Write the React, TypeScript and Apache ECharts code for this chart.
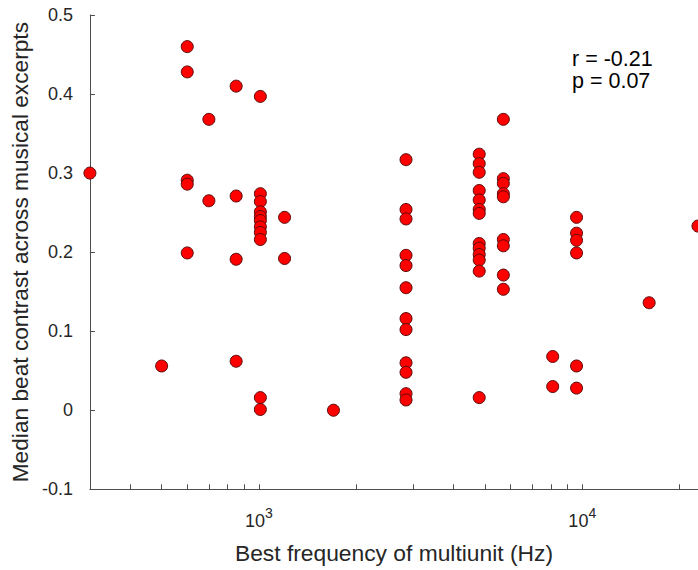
import React, { useEffect, useRef } from "react";
import * as echarts from "echarts";

// Best frequency (Hz) and median beat contrast for each multiunit
const bestFreqHz: number[] = [
  300,
  500,
  600, 600, 600, 600, 600,
  700, 700,
  850, 850, 850, 850,
  1010, 1010, 1010, 1010, 1010, 1010, 1010, 1010, 1010, 1010, 1010,
  1200, 1200,
  1700,
  2850, 2850, 2850, 2850, 2850, 2850, 2850, 2850, 2850, 2850, 2850, 2850,
  4800, 4800, 4800, 4800, 4800, 4800, 4800, 4800, 4800, 4800, 4800, 4800, 4800,
  5700, 5700, 5700, 5700, 5700, 5700, 5700, 5700, 5700,
  8100, 8100,
  9600, 9600, 9600, 9600, 9600, 9600,
  16100,
  22800,
];
const beatContrast: number[] = [
  0.3,
  0.056,
  0.46, 0.428, 0.291, 0.286, 0.199,
  0.368, 0.265,
  0.41, 0.271, 0.191, 0.062,
  0.397, 0.274, 0.264, 0.251, 0.245, 0.24, 0.232, 0.225, 0.216, 0.016, 0.001,
  0.244, 0.192,
  0.0,
  0.317, 0.254, 0.242, 0.196, 0.183, 0.155, 0.116, 0.102, 0.06, 0.048, 0.021, 0.013,
  0.324, 0.312, 0.301, 0.278, 0.266, 0.254, 0.249, 0.211, 0.205, 0.197, 0.19, 0.176, 0.016,
  0.368, 0.293, 0.287, 0.274, 0.27, 0.216, 0.208, 0.171, 0.153,
  0.068, 0.03,
  0.244, 0.224, 0.215, 0.199, 0.056, 0.028,
  0.136,
  0.233,
];

const xMinHz = 300;
const xMaxHz = 22800;
const xMajorTicksHz: number[] = [1000, 10000];
const xTicksHz: number[] = [
  400, 500, 600, 700, 800, 900, 1000,
  2000, 3000, 4000, 5000, 6000, 7000, 8000, 9000, 10000, 20000,
];
const yMin = -0.1;
const yMax = 0.5;
const yStep = 0.1;
const statsLines: string[] = ["r = -0.21", "p = 0.07"];

const FONT = "Liberation Sans, Arial, Helvetica, sans-serif";
const TEXT = "#262626";
const AXIS = "#4d4d4d";

export default function App() {
  const ref = useRef<HTMLDivElement>(null);
  useEffect(() => {
    if (!ref.current) return;
    const chart = echarts.init(ref.current, undefined, { renderer: "svg" });
    const points = bestFreqHz.map((f, i) => [Math.log10(f), beatContrast[i]]);
    chart.setOption({
      animation: false,
      backgroundColor: "#ffffff",
      textStyle: { fontFamily: FONT },
      grid: { left: 89.3, right: -5, top: 15, bottom: 80.7, containLabel: false },
      xAxis: {
        type: "value",
        min: Math.log10(xMinHz),
        max: Math.log10(xMaxHz),
        name: "Best frequency of multiunit (Hz)",
        nameLocation: "middle",
        nameGap: 52,
        nameTextStyle: { fontSize: 22.8, color: TEXT, fontFamily: FONT },
        axisLine: { show: true, onZero: false, lineStyle: { color: AXIS, width: 1 } },
        axisTick: {
          show: true,
          inside: true,
          length: 5,
          customValues: xTicksHz.map((v) => Math.log10(v)),
          lineStyle: { color: AXIS },
        },
        axisLabel: {
          customValues: xMajorTicksHz.map((v) => Math.log10(v)),
          margin: 17,
          formatter: (v: number) => `{b|10}{s|${Math.round(v)}}`,
          rich: {
            b: { fontSize: 18, color: TEXT, fontFamily: FONT },
            s: { fontSize: 14, color: TEXT, fontFamily: FONT, padding: [0, 0, 16, 0] },
          },
        },
        splitLine: { show: false },
      },
      yAxis: {
        type: "value",
        min: yMin,
        max: yMax,
        interval: yStep,
        name: "Median beat contrast across musical excerpts",
        nameLocation: "middle",
        nameGap: 56,
        nameTextStyle: { fontSize: 22.7, color: TEXT, fontFamily: FONT },
        axisLine: { show: true, lineStyle: { color: AXIS, width: 1 } },
        axisTick: { show: true, inside: true, length: 5, lineStyle: { color: AXIS } },
        axisLabel: { fontSize: 18, color: TEXT, fontFamily: FONT, margin: 17 },
        splitLine: { show: false },
      },
      graphic: statsLines.map((t, i) => ({
        type: "text",
        left: 572,
        top: 48 + i * 22,
        style: { text: t, fontSize: 21.5, fill: "#000000", fontFamily: FONT },
      })),
      series: [
        {
          type: "scatter",
          data: points,
          symbol: "circle",
          symbolSize: 12,
          clip: false,
          itemStyle: { color: "#ff0000", borderColor: "#5a0a0a", borderWidth: 1, opacity: 1 },
        },
      ],
    });
    return () => chart.dispose();
  }, []);
  return (
    <div
      ref={ref}
      style={{ position: "absolute", left: 0, top: 0, width: 698, height: 570 }}
    />
  );
}
